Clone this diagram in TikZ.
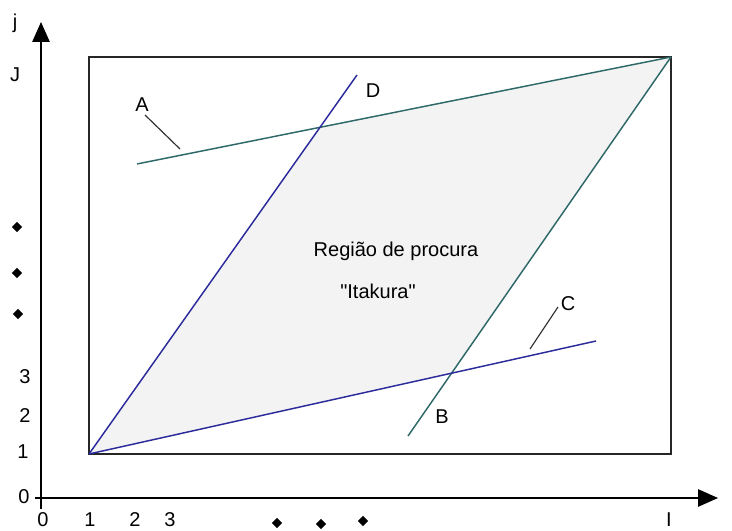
\documentclass[tikz,border=0pt]{standalone}
\usepackage{fontspec}
\setmainfont{Liberation Sans}
\usepackage{tikz}
\usetikzlibrary{arrows.meta,positioning,shapes.geometric}
\definecolor{linb}{HTML}{2B2B9C}
\definecolor{lint}{HTML}{2F6868}
\definecolor{regbg}{HTML}{F3F3F3}
\tikzset{
  ax/.style={-{Triangle[length=15pt,width=13pt]},line width=1.4pt,black},
  frm/.style={line width=1.4pt,black!85},
  bl/.style={line width=1.1pt,linb},
  tl/.style={line width=1.1pt,lint},
  ldr/.style={line width=0.9pt,black!80},
  lbl/.style={font=\fontsize{15}{17}\selectfont,inner sep=0pt,anchor=base},
  dot/.style={diamond,fill=black,inner sep=0pt,minimum width=8pt,minimum height=8pt}
}

\begin{document}
\begin{tikzpicture}[x=0.75pt,y=-0.75pt]
\useasboundingbox (0,0) rectangle (732,531);
% points
\coordinate (o) at (89,454);
\coordinate (tr) at (671,57);
\coordinate (aS) at (137,164);
\coordinate (dE) at (357,75);
\coordinate (bE) at (408,436);
\coordinate (cE) at (596,341);
\coordinate (ad) at (intersection of aS--tr and o--dE);
\coordinate (bc) at (intersection of tr--bE and o--cE);
% region
\fill[regbg] (o)--(ad)--(tr)--(bc)--cycle;
\draw[frm] (o) rectangle (tr);
% axes
\coordinate (yb) at (41,509);
\coordinate (yt) at (41,22);
\coordinate (xl) at (35,498);
\coordinate (xr) at (718,498);
\draw[ax] (yb)--(yt);
\draw[ax] (xl)--(xr);
% lines
\draw[tl] (aS)--(tr);
\draw[tl] (tr)--(bE);
\draw[bl] (o)--(dE);
\draw[bl] (o)--(cE);
% labels
\node[lbl] (lA) at (142,112) {A};
\node[lbl] (lD) at (373,98) {D};
\node[lbl] (lB) at (442,423) {B};
\node[lbl] (lC) at (568,310) {C};
\coordinate (pa1) at (145,115);
\coordinate (pa2) at (180,149);
\coordinate (pc1) at (558,307);
\coordinate (pc2) at (530,349);
\draw[ldr] (pa1)--(pa2);
\draw[ldr] (pc1)--(pc2);
\node[lbl] (reg) at (396,257) {Região de procura};
\node[lbl] (ita) at (378,298) {\textquotedbl Itakura\textquotedbl};
% y ticks
\node[lbl] (lj) at (15,29) {j};
\node[lbl] (lJ) at (15,82) {J};
\node[lbl] (y3) at (25,383) {3};
\node[lbl] (y2) at (25,422) {2};
\node[lbl] (y1) at (23,458) {1};
\node[lbl] (y0) at (24,503) {0};
\node[dot] (yd1) at (17,227) {};
\node[dot] (yd2) at (17,273) {};
\node[dot] (yd3) at (18,314) {};
% x ticks
\node[lbl] (x0) at (43,526) {0};
\node[lbl] (x1) at (90,526) {1};
\node[lbl] (x2) at (135,526) {2};
\node[lbl] (x3) at (170,526) {3};
\node[lbl] (xI) at (669,526) {I};
\node[dot] (xd1) at (277,523) {};
\node[dot] (xd2) at (321,524) {};
\node[dot] (xd3) at (363,521) {};
\end{tikzpicture}
\end{document}
